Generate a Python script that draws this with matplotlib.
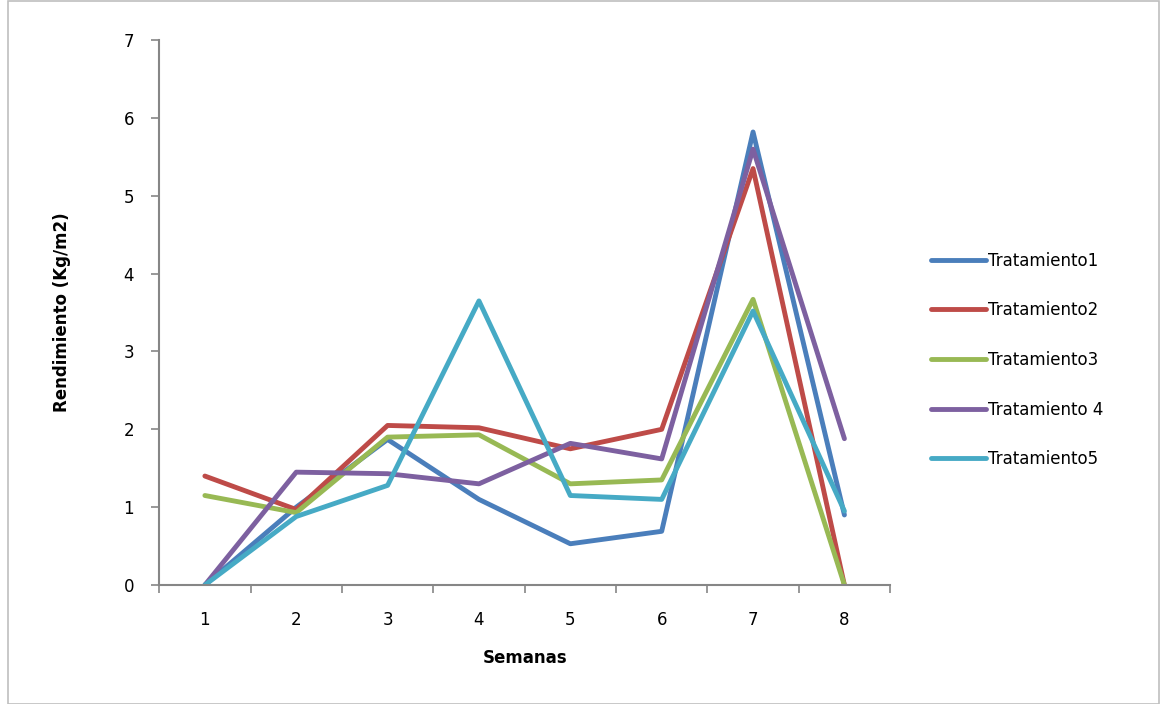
import matplotlib.pyplot as plt
from matplotlib.patches import Rectangle

# Data
semanas = ['1', '2', '3', '4', '5', '6', '7', '8']
tratamiento1 = [0.0, 1.0, 1.87, 1.1, 0.53, 0.69, 5.82, 0.9]
tratamiento2 = [1.4, 0.97, 2.05, 2.02, 1.75, 2.0, 5.35, 0.0]
tratamiento3 = [1.15, 0.93, 1.9, 1.93, 1.3, 1.35, 3.67, 0.0]
tratamiento4 = [0.0, 1.45, 1.43, 1.3, 1.82, 1.62, 5.6, 1.88]
tratamiento5 = [0.0, 0.88, 1.28, 3.65, 1.15, 1.1, 3.52, 0.95]

series = [
    ('Tratamiento1', tratamiento1, '#4a7ebb'),
    ('Tratamiento2', tratamiento2, '#be4b48'),
    ('Tratamiento3', tratamiento3, '#98b954'),
    ('Tratamiento 4', tratamiento4, '#7d60a0'),
    ('Tratamiento5', tratamiento5, '#46aac5'),
]

fig = plt.figure(figsize=(11.62, 7.04), dpi=100)
ax = fig.add_axes([0.137, 0.169, 0.629, 0.774])

x = list(range(1, len(semanas) + 1))
for name, vals, color in series:
    ax.plot(x, vals, color=color, linewidth=3.5, label=name,
            solid_joinstyle='round', solid_capstyle='round')

# Excel-style category axis
ax.set_xlim(0.5, len(semanas) + 0.5)
ax.set_ylim(0, 7)
ax.set_xticks(x)
ax.set_xticklabels(semanas)
ax.set_xticks([i + 0.5 for i in range(len(semanas) + 1)], minor=True)
ax.tick_params(axis='x', which='major', length=0, pad=19, labelsize=12)
ax.tick_params(axis='x', which='minor', length=6, color='#868686', width=1.2)
ax.tick_params(axis='y', length=6, color='#868686', width=1.2, labelsize=12, pad=12)
ax.set_yticks(range(0, 8))

for s in ['top', 'right']:
    ax.spines[s].set_visible(False)
for s in ['left', 'bottom']:
    ax.spines[s].set_color('#868686')
    ax.spines[s].set_linewidth(1.5)

ax.set_xlabel('Semanas', fontsize=12, fontweight='bold', labelpad=14)
ax.set_ylabel('Rendimiento (Kg/m2)', fontsize=12, fontweight='bold', labelpad=38)

leg = ax.legend(loc='center left', bbox_to_anchor=(1.035, 0.413), frameon=False,
                fontsize=12, handlelength=3.3, handletextpad=0.15, labelspacing=1.9)

# thin frame round the whole chart
fig.patches.append(Rectangle((0.007, 0.0), 0.99, 0.998, transform=fig.transFigure,
                             fill=False, edgecolor='#bfbfbf', linewidth=1.2))

plt.savefig('out.png', dpi=100)
